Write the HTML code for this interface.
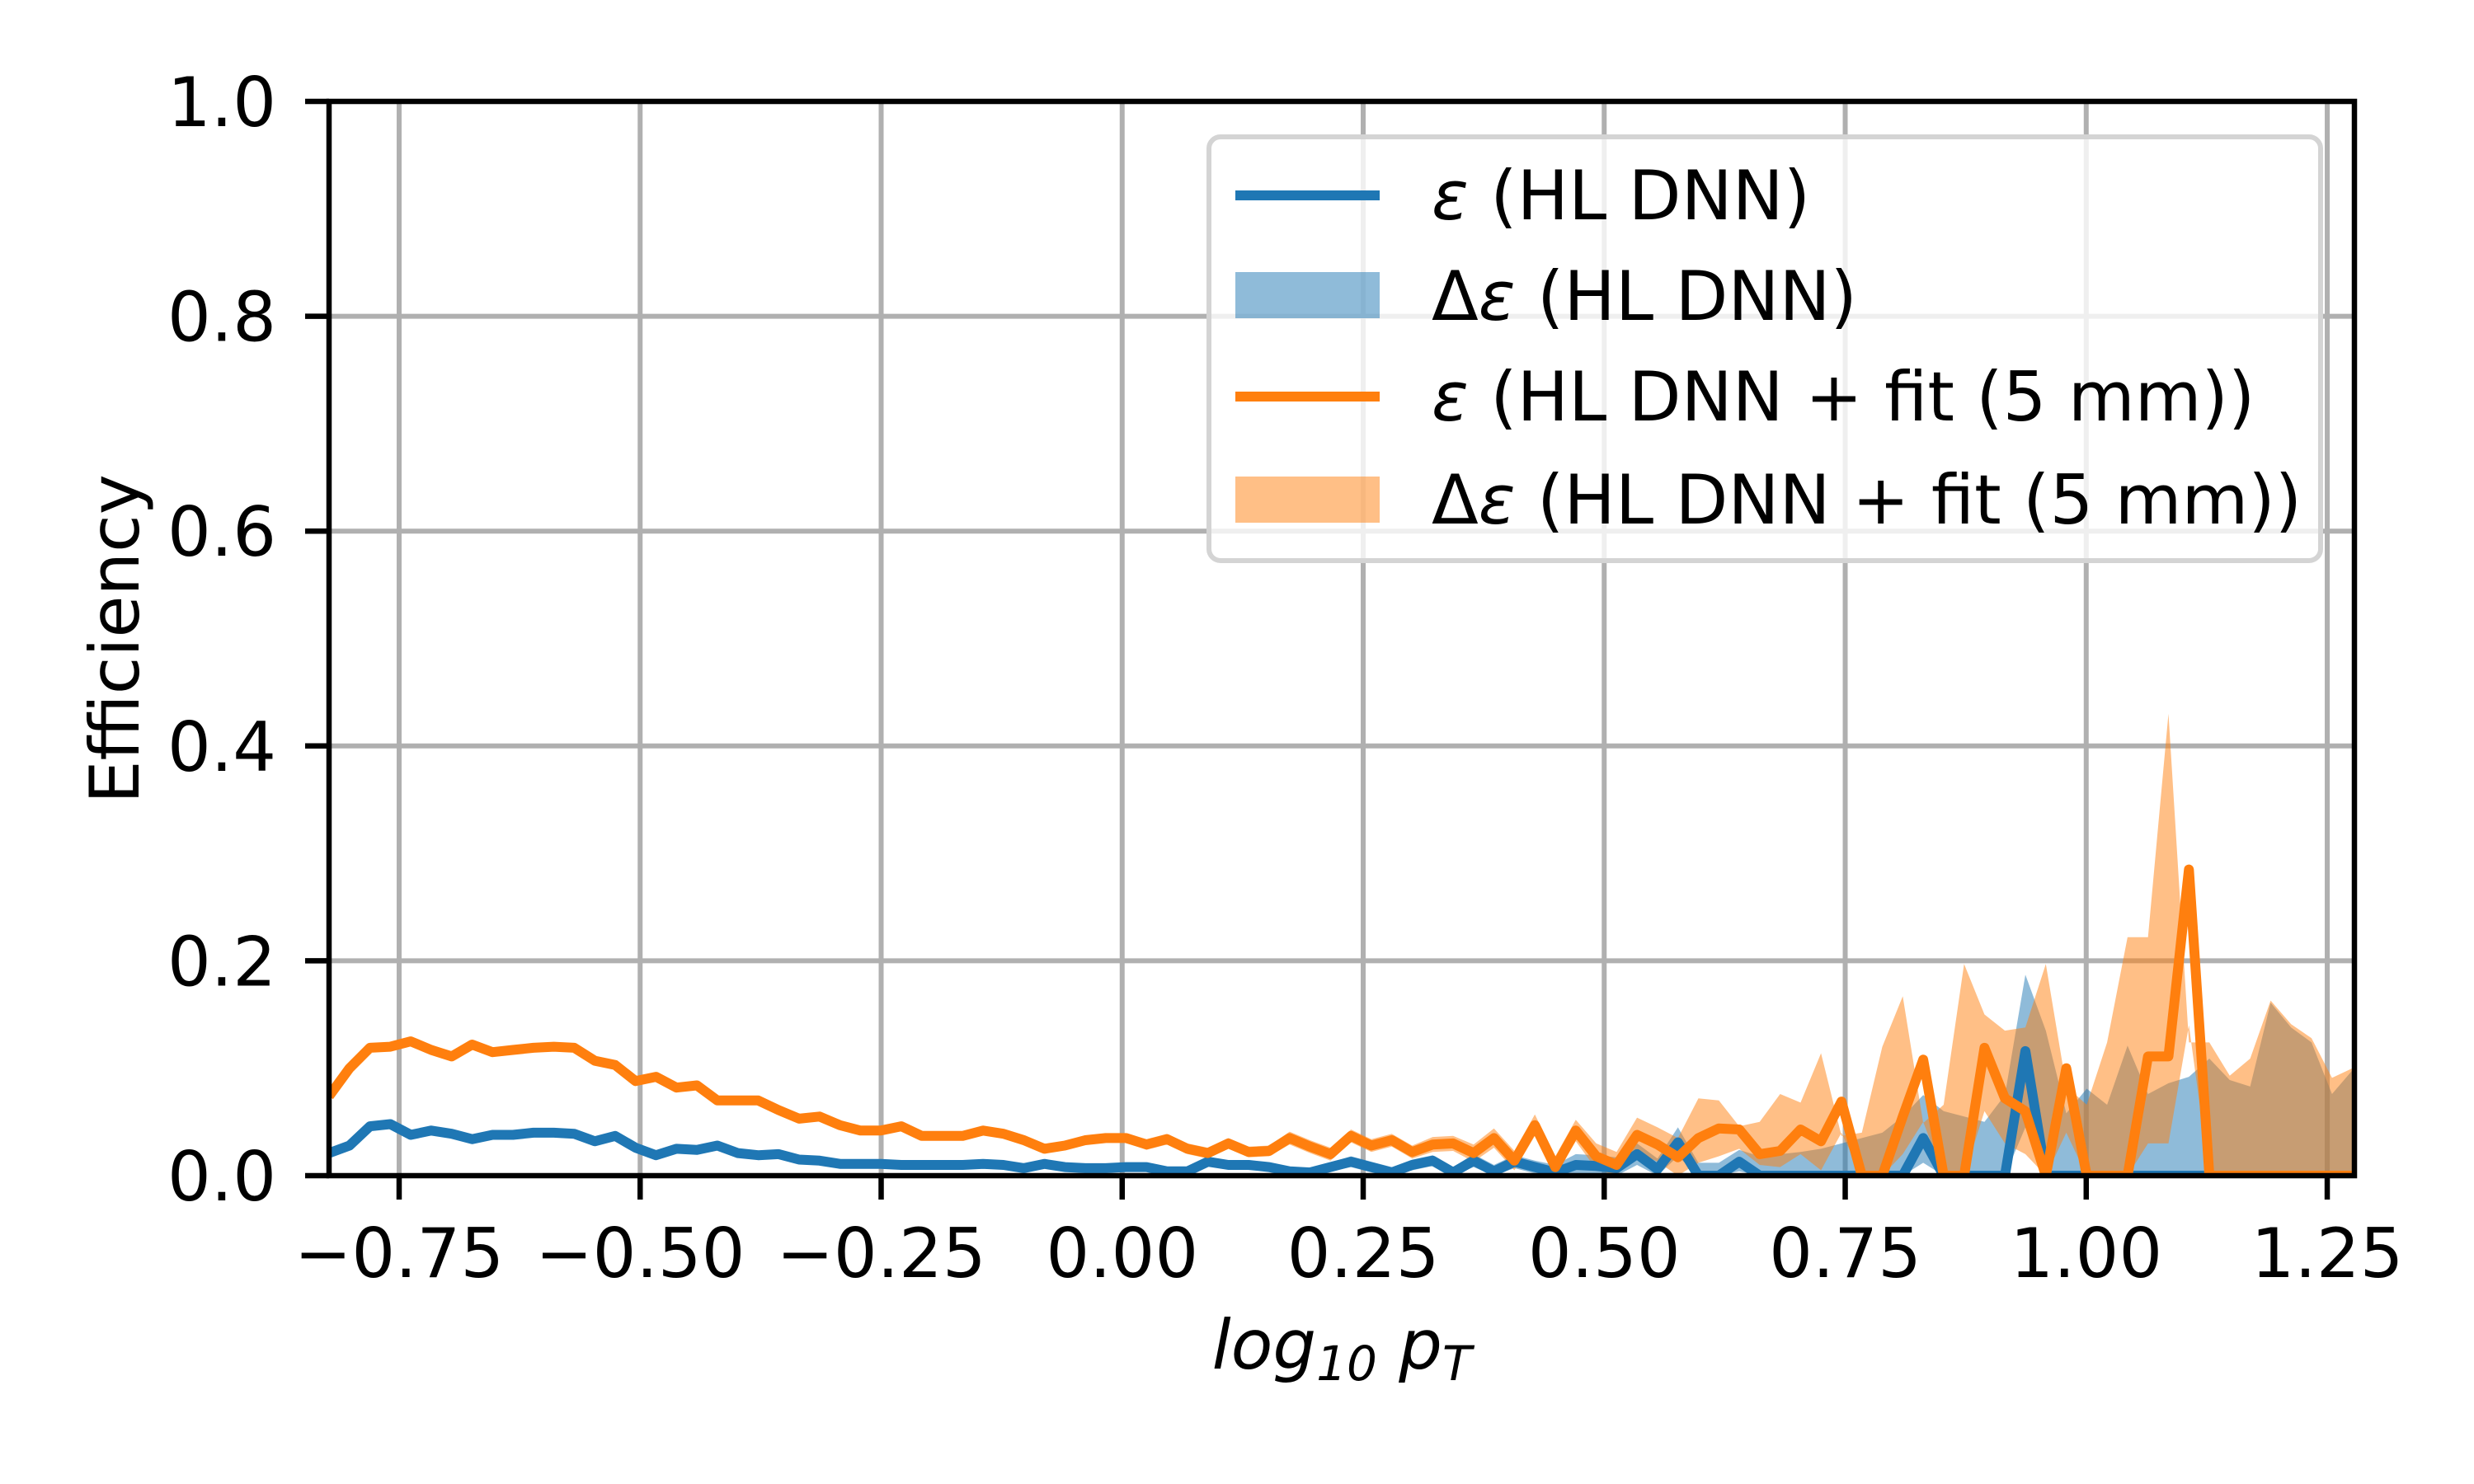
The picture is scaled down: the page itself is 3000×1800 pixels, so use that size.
<!DOCTYPE html>
<html><head><meta charset="utf-8"><style>
html,body{margin:0;padding:0;background:#fff;}
svg{display:block;font-family:"DejaVu Sans","Liberation Sans",sans-serif;}
</style></head><body>
<svg id="chart" width="3000" height="1800" viewBox="0 0 3000 1800" xmlns="http://www.w3.org/2000/svg">
<rect width="3000" height="1800" fill="#fff"/>
<g id="grid"></g>
<g id="bands"></g>
<g id="lines"></g>
<g id="axes"></g>
<text x="1627" y="1660" font-size="83" text-anchor="middle" font-style="italic">log<tspan font-size="58" dy="14">10</tspan><tspan dy="-14"> p</tspan><tspan font-size="58" dy="14">T</tspan></text>
<text x="0" y="0" font-size="83" text-anchor="middle" transform="translate(168,775) rotate(-90)">Efficiency</text>
<g>
<rect x="1466" y="166" width="1348" height="514" rx="14" fill="#fff" fill-opacity="0.8" stroke="#d4d4d4" stroke-width="6"/>
<line x1="1498" y1="237" x2="1673" y2="237" stroke="#1f77b4" stroke-width="12"/>
<text x="1736" y="266" font-size="83"><tspan font-style="italic">ε</tspan> (HL DNN)</text>
<rect x="1498" y="330" width="175" height="56" fill="#1f77b4" fill-opacity="0.5"/>
<text x="1736" y="388" font-size="83">Δ<tspan font-style="italic">ε</tspan> (HL DNN)</text>
<line x1="1498" y1="481" x2="1673" y2="481" stroke="#ff7f0e" stroke-width="12"/>
<text x="1736" y="510" font-size="83"><tspan font-style="italic">ε</tspan> (HL DNN + fit (5 mm))</text>
<rect x="1498" y="578" width="175" height="56" fill="#ff7f0e" fill-opacity="0.5"/>
<text x="1736" y="635" font-size="83">Δ<tspan font-style="italic">ε</tspan> (HL DNN + fit (5 mm))</text>
</g>
</svg>
<script>
const xTicks=[-0.75,-0.5,-0.25,0,0.25,0.5,0.75,1.0,1.25];
const xTickLabels=["−0.75","−0.50","−0.25","0.00","0.25","0.50","0.75","1.00","1.25"];
const yTicks=[0,0.2,0.4,0.6,0.8,1.0];
const yTickLabels=["0.0","0.2","0.4","0.6","0.8","1.0"];
const binStart=-0.8227, binStep=0.0212;
const effHL=[.021,.028,.046,.048,.038,.042,.039,.034,.038,.038,.040,.040,.039,.032,.037,.026,.019,.025,.024,.028,.021,.019,.020,.015,.014,.011,.011,.011,.010,.010,.010,.010,.011,.010,.007,.011,.008,.007,.007,.008,
.008,.004,.004,.013,.010,.010,.008,.004,.003,.008,.013,.008,.003,.010,.014,.003,.014,.004,.013,.008,.003,.010,.009,.007,.020,.006,.031,0,0,.013,
0,0,0,0,0,0,0,0,.035,0,0,0,0,.116,0,0,0,0,0,0,0,0,0,0,0,0,0,0,0,0];
const effFit=[.074,.10,.119,.120,.125,.117,.111,.122,.115,.117,.119,.120,.119,.107,.103,.088,.092,.082,.084,.070,.070,.070,.061,.053,.055,.047,.042,.042,.046,.037,.037,.037,.042,.039,.033,.025,.028,.033,.035,.035,
.029,.034,.025,.021,.030,.022,.023,.035,.027,.020,.037,.028,.033,.022,.029,.030,.021,.035,.014,.047,.008,.042,.018,.010,.038,.029,.017,.035,.044,.043,
.020,.023,.043,.032,.069,0,0,.055,.108,0,0,.119,.072,.060,0,.100,0,0,0,.111,.111,.285,0,0,0,0,0,0,0,0];
const hlUp=[.024,.031,.049,.051,.041,.045,.042,.037,.041,.041,.043,.043,.042,.035,.040,.029,.022,.028,.027,.031,.024,.022,.023,.018,.017,.014,.014,.014,.013,.013,.013,.013,.014,.013,.010,.014,.011,.010,.010,.011,
.012,.008,.008,.017,.014,.014,.012,.008,.007,.012,.018,.013,.008,.015,.019,.008,.020,.010,.019,.014,.010,.020,.019,.017,.030,.016,.045,.012,.012,.024,
.018,.020,.022,.025,.030,.035,.040,.055,.075,.060,.055,.050,.075,.187,.135,.058,.081,.066,.121,.076,.086,.092,.109,.089,.083,.161,.138,.124,.076,.098];
const hlLo=[.018,.025,.043,.045,.035,.039,.036,.031,.035,.035,.037,.037,.036,.029,.034,.023,.016,.022,.021,.025,.018,.016,.017,.012,.011,.008,.008,.008,.007,.007,.007,.007,.008,.007,.004,.008,.005,.004,.004,.005,
.004,.001,.001,.009,.006,.006,.004,.001,0,.004,.008,.003,0,.005,.009,0,.008,0,.007,.002,0,.002,.001,0,.010,0,.018,0,0,.004,
0,0,0,0,0,0,0,0,.012,0,0,0,0,.045,0,0,0,0,0,0,0,0,0,0,0,0,0,0,0,0];
const fitUp=[.078,.104,.123,.124,.129,.121,.115,.126,.119,.121,.123,.124,.123,.111,.107,.092,.096,.086,.088,.074,.074,.074,.065,.057,.059,.051,.046,.046,.050,.041,.041,.041,.046,.043,.037,.029,.032,.037,.039,.039,
.034,.039,.030,.026,.035,.027,.028,.041,.033,.026,.043,.034,.039,.028,.036,.037,.029,.044,.023,.057,.018,.052,.030,.022,.054,.045,.035,.072,.070,.046,
.050,.076,.068,.114,.037,.040,.120,.167,.049,.066,.197,.150,.135,.138,.197,.083,.066,.124,.222,.222,.430,.124,.124,.093,.109,.163,.141,.128,.091,.100];
const fitLo=[.070,.096,.115,.116,.121,.113,.107,.118,.111,.113,.115,.116,.115,.103,.099,.084,.088,.078,.080,.066,.066,.066,.057,.049,.051,.043,.038,.038,.042,.033,.033,.033,.038,.035,.029,.021,.024,.029,.031,.031,
.024,.029,.020,.016,.025,.017,.018,.029,.021,.014,.031,.022,.027,.016,.022,.023,.013,.026,.005,.037,0,.032,.006,0,.022,.013,0,.012,.018,.025,
.010,.008,.020,.005,.040,0,0,.020,.050,0,0,.060,.030,.020,0,.040,0,0,0,.030,.030,.140,0,0,0,0,0,0,0,0];

const L=399,R=2855,T=123,B=1426,XMIN=-0.8227,XMAX=1.2782;
const NS="http://www.w3.org/2000/svg";
function sx(v){return L+(v-XMIN)/(XMAX-XMIN)*(R-L);}
function sy(v){return B-v*(B-T);}
function el(tag,attrs,parent){const e=document.createElementNS(NS,tag);for(const k in attrs)e.setAttribute(k,attrs[k]);parent.appendChild(e);return e;}
const grid=document.getElementById('grid'),axes=document.getElementById('axes'),bands=document.getElementById('bands'),lines=document.getElementById('lines');
const xs=effFit.map((_,i)=>binStart+binStep*i);

const defs=el('defs',{},document.getElementById('chart'));
const cp=el('clipPath',{id:'plotclip'},defs);
el('rect',{x:L,y:T,width:R-L,height:B-T},cp);
bands.setAttribute('clip-path','url(#plotclip)');
lines.setAttribute('clip-path','url(#plotclip)');

xTicks.forEach((t,i)=>{
  const g=el('line',{x1:sx(t),x2:sx(t),y1:T,y2:B,stroke:'#b0b0b0','stroke-width':6},grid);
  
  
  const tk=el('line',{x1:sx(t),x2:sx(t),y1:B,y2:B+29,stroke:'#000','stroke-width':6.5},axes);
  
  
  const tx=el('text',{x:sx(t),y:1549,'font-size':83,'text-anchor':'middle'},axes);
  tx.textContent=xTickLabels[i];
  
  
});
yTicks.forEach((t,i)=>{
  const g=el('line',{x1:L,x2:R,y1:sy(t),y2:sy(t),stroke:'#b0b0b0','stroke-width':6},grid);
  
  
  const tk=el('line',{x1:L-29,x2:L,y1:sy(t),y2:sy(t),stroke:'#000','stroke-width':6.5},axes);
  
  
  const tx=el('text',{x:335,y:sy(t)+30,'font-size':83,'text-anchor':'end'},axes);
  tx.textContent=yTickLabels[i];
  
  
});
const frame=el('rect',{x:L,y:T,width:R-L,height:B-T,fill:'none',stroke:'#000','stroke-width':6.5},axes);



function bandPath(up,lo){
  let d='';
  up.forEach((v,i)=>{d+=(i?'L':'M')+sx(xs[i]).toFixed(1)+','+sy(v).toFixed(1);});
  for(let i=lo.length-1;i>=0;i--)d+='L'+sx(xs[i]).toFixed(1)+','+sy(lo[i]).toFixed(1);
  return d+'Z';
}
function linePath(v){return v.map((y,i)=>(i?'L':'M')+sx(xs[i]).toFixed(1)+','+sy(y).toFixed(1)).join('');}

const b1=el('path',{d:bandPath(hlUp,hlLo),fill:'#1f77b4','fill-opacity':0.5},bands);


const l1=el('path',{d:linePath(effHL),fill:'none',stroke:'#1f77b4','stroke-width':12,'stroke-linejoin':'round'},lines);


const b2=el('path',{d:bandPath(fitUp,fitLo),fill:'#ff7f0e','fill-opacity':0.5},bands);


const l2=el('path',{d:linePath(effFit),fill:'none',stroke:'#ff7f0e','stroke-width':12,'stroke-linejoin':'round'},lines);


</script>
</body></html>
